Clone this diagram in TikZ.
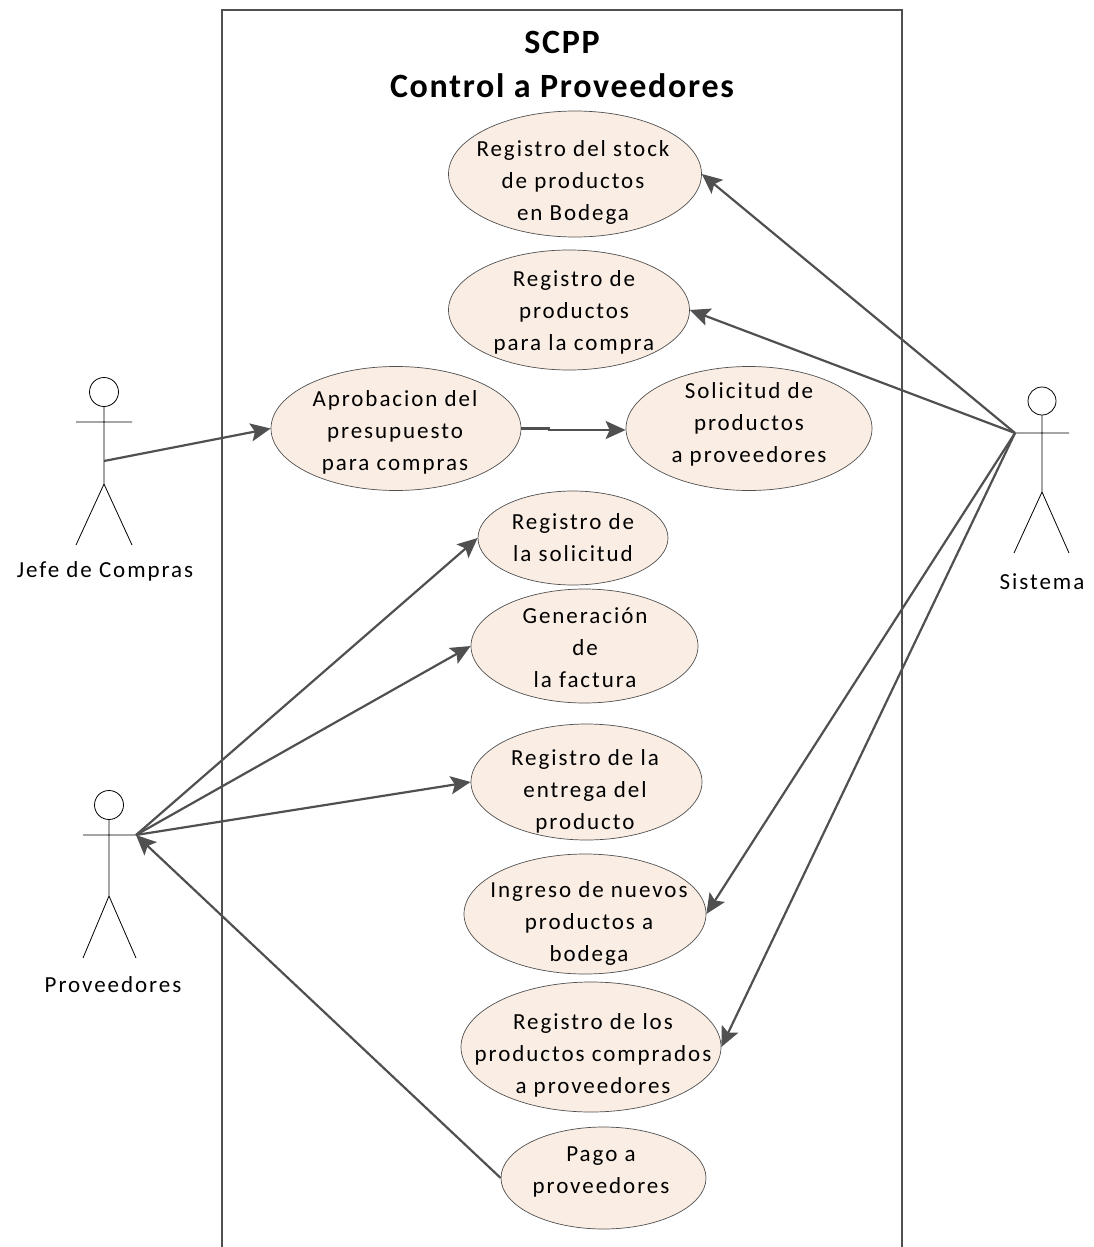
\documentclass[tikz,border=0pt]{standalone}
\usepackage{fontspec}
\setmainfont{Carlito}
\newfontfamily\labfont[LetterSpace=8.5]{Carlito}
\newfontfamily\titfont[LetterSpace=5]{Carlito}
\usetikzlibrary{arrows.meta,shapes.geometric}
\definecolor{uc}{HTML}{FAEDE4}
\definecolor{ln}{HTML}{505050}
\tikzset{
 x=1pt,y=-1pt,
 ucase/.style={draw=ln,line width=0.7pt,fill=uc,ellipse,inner sep=0pt},
 lab/.style={font=\labfont\fontsize{23}{32}\selectfont,align=center,text=black,inner sep=0pt},
 conn/.style={draw=ln,line width=2.2pt,-{Stealth[length=20pt,width=18pt,inset=4pt]}},
 act/.style={draw=black,line width=0.8pt},
}
\newcommand{\ucnode}[8]{\node[ucase,minimum width=#4pt,minimum height=#5pt] (#1) at (#2,#3) {}; \node[lab] (#1t) at (#6,#7) {#8};}
\begin{document}
\begin{tikzpicture}
\useasboundingbox (0,0) rectangle (1093,1247);
\draw[line width=1.4pt,draw=ln] (222,1247) -- (222,10) -- (902,10) -- (902,1247);
\node[font=\titfont\bfseries\fontsize{34}{44}\selectfont,align=center,inner sep=0pt] (title) at (562,64) {SCPP\\Control a Proveedores};
\ucnode{a}{575}{174}{253}{126}{573}{182.5}{Registro del stock\\de productos\\en Bodega}
\ucnode{b}{569}{310}{241}{120}{574}{312.5}{Registro de\\productos\\para la compra}
\ucnode{c}{396}{428.5}{250}{124}{395}{432.5}{Aprobacion del\\presupuesto\\para compras}
\ucnode{d}{749}{428.5}{246}{124}{749}{424.5}{Solicitud de\\productos\\a proveedores}
\ucnode{e}{573}{538}{190}{94}{573}{537.5}{Registro de\\la solicitud}
\ucnode{f}{584.5}{646}{227}{114}{585}{647.5}{Generación\\de\\la factura}
\ucnode{g}{586.5}{782}{231}{116}{585}{791.5}{Registro de la\\entrega del\\producto}
\ucnode{h}{585}{914}{242}{120}{589}{923.5}{Ingreso de nuevos\\productos a\\bodega}
\ucnode{i}{591}{1047}{260}{130}{593}{1055.5}{Registro de los\\productos comprados\\a proveedores}
\ucnode{j}{603.5}{1178}{205}{102}{601}{1172}{Pago a\\proveedores}
% actors
\coordinate (J) at (104,461); \coordinate (P) at (136,835); \coordinate (S) at (1015,433);
\draw[act] (104,392) circle (14.5);
\draw[act] (104,407) -- (104,484) (76,422) -- (132,422) (104,484) -- (76,545) (104,484) -- (132,545);
\draw[act] (109,805) circle (14.5);
\draw[act] (109,820) -- (109,896) (83,835) -- (136,835) (109,896) -- (83,958) (109,896) -- (136,958);
\draw[act] (1042,401) circle (14);
\draw[act] (1042,415) -- (1042,492) (1015,433) -- (1069,433) (1042,492) -- (1014,553) (1042,492) -- (1069,553);
\node[lab] (jl) at (105,571) {Jefe de Compras};
\node[lab] (pl) at (113,985) {Proveedores};
\node[lab] (sl) at (1042,582) {Sistema};
\draw[conn] (J) -- (c.west);
\draw[conn] (c.east) -- (549,428.5) -- (549,430) -- ([yshift=-1.5pt]d.west);
\draw[conn] (P) -- (e.west);
\draw[conn] (P) -- (f.west);
\draw[conn] (P) -- (g.west);
\draw[conn] (j.west) -- (P);
\draw[conn] (S) -- (a.east);
\draw[conn] (S) -- (b.east);
\draw[conn] (S) -- (h.east);
\draw[conn] (S) -- (i.east);
\end{tikzpicture}
\end{document}
